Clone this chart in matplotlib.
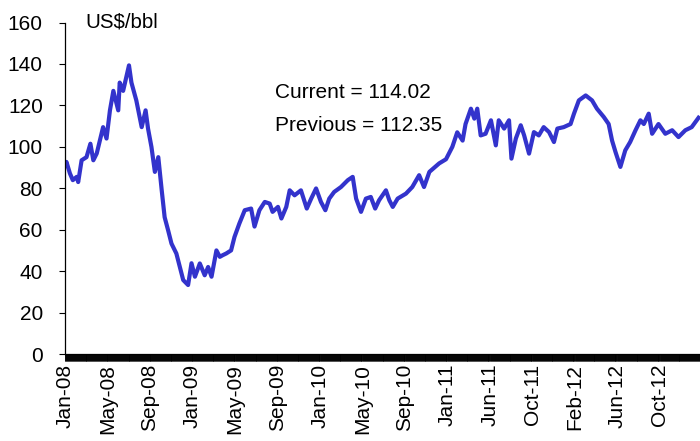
import numpy as np
import matplotlib
matplotlib.use("Agg")
import matplotlib.pyplot as plt

plt.rcParams['font.family'] = ['Liberation Sans', 'DejaVu Sans']

# trading day index (from 2 Jan 2008) and price
trading_day = [0, 3, 10, 16, 24, 27, 34, 44, 52, 58, 65, 78, 85, 92, 99, 109, 112, 119, 131, 136,
               146, 157, 165, 170, 177, 184, 191, 198, 204, 211, 218, 228, 235, 242, 252, 259, 266,
               276, 286, 293, 300, 310, 317, 323, 330, 340, 347, 357, 368, 381, 388, 398, 409, 419,
               425, 436, 443, 453, 460, 470, 483, 495, 504, 514, 524, 533, 541, 551, 565, 579, 589,
               596, 606, 616, 626, 635, 643, 657, 664, 671, 681, 698, 711, 725, 735, 746, 766, 780,
               793, 803, 814, 820, 831, 838, 844, 851, 861, 872, 882, 888, 899, 909, 914, 923, 933,
               940, 950, 960, 970, 980, 991, 1001, 1008, 1021, 1035, 1042, 1052, 1066, 1079, 1089,
               1103, 1113, 1120, 1127, 1137, 1147, 1157, 1168, 1178, 1185, 1195, 1202, 1215, 1229,
               1243, 1256, 1270, 1283, 1297]
price = [91, 92.7, 87.2, 83.9, 85.5, 83, 93.5, 95, 101.5, 93.5, 96.8, 109.5, 104, 117.6, 127, 117.6,
         131, 127, 139.3, 131, 122.4, 109.5, 117.6, 108.8, 99.9, 87.9, 95, 79, 66, 59.8, 53.3, 48.5,
         42, 35.7, 33.3, 43.8, 37.3, 43.7, 38, 42, 37.3, 50, 46.9, 47.7, 48.5, 50, 56.5, 63, 69.4,
         70.2, 61.5, 69.4, 73.4, 72.6, 68.6, 71, 65.4, 71, 79, 76.6, 79, 70.2, 75, 79.9, 73.4, 69.4,
         75, 78.2, 80.6, 83.9, 85.5, 75, 68.6, 75, 75.8, 70.2, 74.2, 79, 74.2, 71, 75, 77.4, 80.6,
         86.3, 80.6, 87.9, 92, 94, 100, 107, 103, 111, 118.4, 113.6, 118.4, 105.5, 106.3, 112.8,
         100.7, 112.8, 108.8, 112.8, 94.3, 104, 110.4, 105.5, 96.7, 107.1, 105.5, 109.5, 107.1,
         102.3, 108.8, 109.5, 111, 116, 122.4, 124.8, 122.4, 118.4, 114.4, 111, 103, 97.5, 90.3,
         98.3, 102.3, 108, 112.8, 111, 116, 106.3, 111, 106.3, 108, 104.7, 108, 109.5, 114.02]

tick_labels = ['Jan-08', 'May-08', 'Sep-08', 'Jan-09', 'May-09', 'Sep-09', 'Jan-10', 'May-10',
               'Sep-10', 'Jan-11', 'Jun-11', 'Oct-11', 'Feb-12', 'Jun-12', 'Oct-12']
label_step = 87
n_days = 1300

current = 114.02
previous = 112.35

fig = plt.figure(figsize=(7, 4.41), dpi=100)
ax = fig.add_axes([65 / 700, 1 - 354 / 441, 635 / 700, (354 - 22.5) / 441])

ax.plot(trading_day, price, color='#3333CC', lw=3.0, solid_joinstyle='round')

ax.set_ylim(0, 160)
ax.set_yticks(np.arange(0, 161, 20))
ax.set_xlim(0, n_days)
ax.set_xticks([i * label_step for i in range(len(tick_labels))])
ax.set_xticklabels(tick_labels, rotation=90, va='top', ha='center')
ax.set_xticks(np.arange(0, n_days + 1), minor=True)

for s in ['top', 'right']:
    ax.spines[s].set_visible(False)
ax.spines['left'].set_linewidth(0.9)
ax.spines['bottom'].set_linewidth(0.9)

ax.tick_params(axis='y', direction='out', length=4, width=0.8, pad=12, labelsize=15)
ax.tick_params(axis='x', which='major', direction='out', length=5, width=0.5, pad=2, labelsize=15)
ax.tick_params(axis='x', which='minor', direction='out', length=5, width=0.6)

fig.text(85 / 700, 1 - 22 / 441, 'US$/bbl', fontsize=14.7, va='center', ha='left')
ax.text(430, 126, 'Current = %.2f' % current, fontsize=15, va='center', ha='left')
ax.text(430, 110.5, 'Previous = %.2f' % previous, fontsize=15, va='center', ha='left')

fig.savefig('out.png', dpi=100)
